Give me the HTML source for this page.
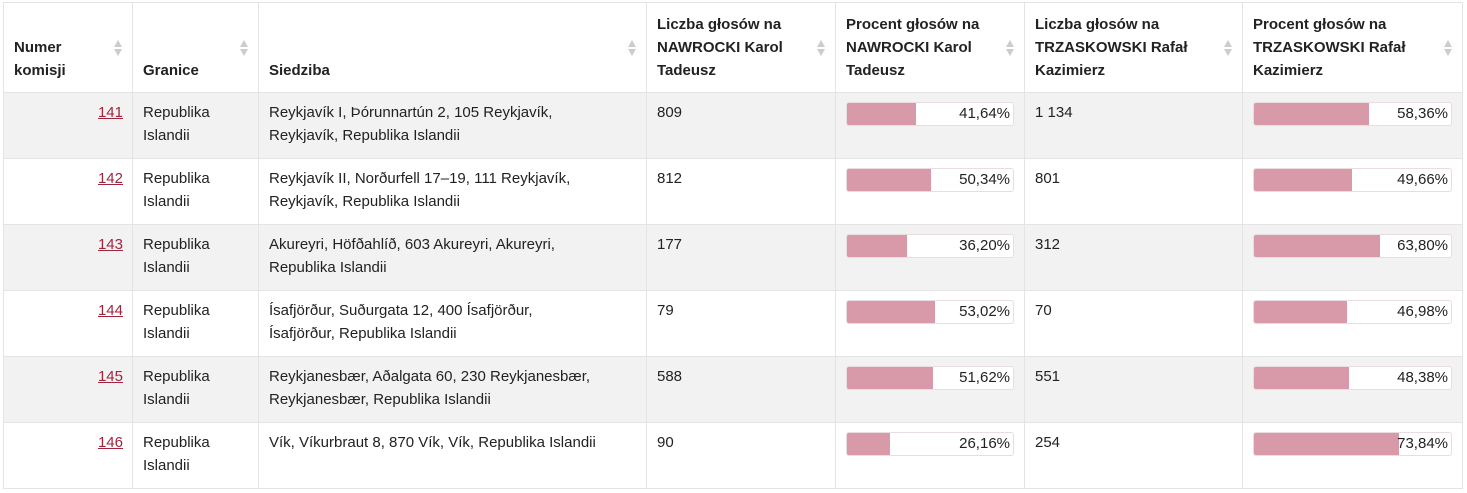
<!DOCTYPE html>
<html><head><meta charset="utf-8"><style>
body{margin:0;background:#fff;font-family:"Liberation Sans",sans-serif;font-size:15px;color:#222;}
table{position:absolute;left:3px;top:2px;border-collapse:collapse;table-layout:fixed;width:1459px;}
td,th{border:1px solid #e4e4e4;padding:8px 10px;vertical-align:top;line-height:23px;}
th{height:71px;vertical-align:bottom;text-align:left;font-weight:bold;position:relative;padding-bottom:10px;padding-right:26px;}
th .s{position:absolute;right:10px;top:36px;width:8px;height:18px;}
tr{height:66px;}
tbody tr:nth-child(odd) td{background:#f2f2f2;}
a{color:#a0243e;text-decoration:underline;}
.r{text-align:right;padding-right:9px;}
.ad{padding-right:48px;}
.bar{position:relative;height:22px;border:1px solid #e8dde3;border-radius:3px;background:#fff;margin-top:1px;}
.bar i{position:absolute;left:0;top:0;bottom:0;background:#d89aa8;border-radius:2px 0 0 2px;}
.bar span{position:absolute;right:3px;top:-1px;}
</style></head><body>
<table>
<colgroup><col style="width:129px"><col style="width:126px"><col style="width:388px"><col style="width:189px"><col style="width:189px"><col style="width:218px"><col style="width:220px"></colgroup>
<thead><tr>
<th>Numer komisji<svg class="s" viewBox="0 0 8 18"><path d="M4 1L8 8H0Z M4 17L8 10H0Z" fill="#ccc"/></svg></th>
<th>Granice<svg class="s" viewBox="0 0 8 18"><path d="M4 1L8 8H0Z M4 17L8 10H0Z" fill="#ccc"/></svg></th>
<th>Siedziba<svg class="s" viewBox="0 0 8 18"><path d="M4 1L8 8H0Z M4 17L8 10H0Z" fill="#ccc"/></svg></th>
<th>Liczba głosów na NAWROCKI Karol Tadeusz<svg class="s" viewBox="0 0 8 18"><path d="M4 1L8 8H0Z M4 17L8 10H0Z" fill="#ccc"/></svg></th>
<th>Procent głosów na NAWROCKI Karol Tadeusz<svg class="s" viewBox="0 0 8 18"><path d="M4 1L8 8H0Z M4 17L8 10H0Z" fill="#ccc"/></svg></th>
<th>Liczba głosów na TRZASKOWSKI Rafał Kazimierz<svg class="s" viewBox="0 0 8 18"><path d="M4 1L8 8H0Z M4 17L8 10H0Z" fill="#ccc"/></svg></th>
<th>Procent głosów na TRZASKOWSKI Rafał Kazimierz<svg class="s" viewBox="0 0 8 18"><path d="M4 1L8 8H0Z M4 17L8 10H0Z" fill="#ccc"/></svg></th>
</tr></thead>
<tbody>
<tr><td class="r"><a>141</a></td><td>Republika Islandii</td><td class="ad">Reykjavík I, Þórunnartún 2, 105 Reykjavík, Reykjavík, Republika Islandii</td><td>809</td><td><div class="bar"><i style="width:41.64%"></i><span>41,64%</span></div></td><td>1 134</td><td><div class="bar"><i style="width:58.36%"></i><span>58,36%</span></div></td></tr>
<tr><td class="r"><a>142</a></td><td>Republika Islandii</td><td class="ad">Reykjavík II, Norðurfell 17–19, 111 Reykjavík, Reykjavík, Republika Islandii</td><td>812</td><td><div class="bar"><i style="width:50.34%"></i><span>50,34%</span></div></td><td>801</td><td><div class="bar"><i style="width:49.66%"></i><span>49,66%</span></div></td></tr>
<tr><td class="r"><a>143</a></td><td>Republika Islandii</td><td class="ad">Akureyri, Höfðahlíð, 603 Akureyri, Akureyri, Republika Islandii</td><td>177</td><td><div class="bar"><i style="width:36.20%"></i><span>36,20%</span></div></td><td>312</td><td><div class="bar"><i style="width:63.80%"></i><span>63,80%</span></div></td></tr>
<tr><td class="r"><a>144</a></td><td>Republika Islandii</td><td class="ad">Ísafjörður, Suðurgata 12, 400 Ísafjörður, Ísafjörður, Republika Islandii</td><td>79</td><td><div class="bar"><i style="width:53.02%"></i><span>53,02%</span></div></td><td>70</td><td><div class="bar"><i style="width:46.98%"></i><span>46,98%</span></div></td></tr>
<tr><td class="r"><a>145</a></td><td>Republika Islandii</td><td class="ad">Reykjanesbær, Aðalgata 60, 230 Reykjanesbær, Reykjanesbær, Republika Islandii</td><td>588</td><td><div class="bar"><i style="width:51.62%"></i><span>51,62%</span></div></td><td>551</td><td><div class="bar"><i style="width:48.38%"></i><span>48,38%</span></div></td></tr>
<tr><td class="r"><a>146</a></td><td>Republika Islandii</td><td class="ad">Vík, Víkurbraut 8, 870 Vík, Vík, Republika Islandii</td><td>90</td><td><div class="bar"><i style="width:26.16%"></i><span>26,16%</span></div></td><td>254</td><td><div class="bar"><i style="width:73.84%"></i><span>73,84%</span></div></td></tr>
</tbody></table>
</body></html>
